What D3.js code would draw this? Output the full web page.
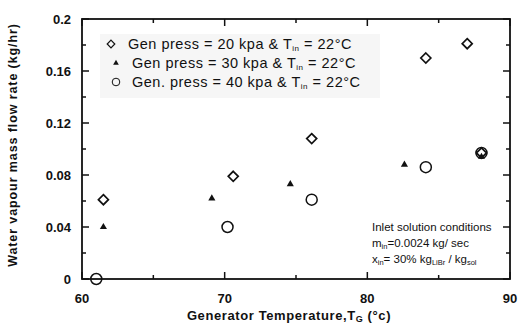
<!DOCTYPE html>
<html>
<head>
<meta charset="utf-8">
<script src="https://cdn.jsdelivr.net/npm/d3@7"></script>
<style>
  body { margin: 0; background: #fff; }
  svg text { font-family: "Liberation Sans", Arial, sans-serif; fill: #111; }
</style>
</head>
<body>
<div id="chart"></div>
<script>
// values
const temp20 = [61.5, 70.6, 76.1, 84.1, 87.0, 88.0];
const flow20 = [0.061, 0.079, 0.108, 0.170, 0.181, 0.097];
const temp30 = [61.5, 69.1, 74.6, 82.6, 88.0];
const flow30 = [0.040, 0.062, 0.073, 0.088, 0.094];
const temp40 = [61.0, 70.2, 76.1, 84.1, 88.0];
const flow40 = [0.000, 0.040, 0.061, 0.086, 0.097];

const xTicks = [60, 70, 80, 90];
const yTicks = [0, 0.04, 0.08, 0.12, 0.16, 0.2];
const yTickLabels = ["0", "0.04", "0.08", "0.12", "0.16", "0.2"];

const width = 518, height = 325;
const margin = { top: 19, right: 8, bottom: 46, left: 82 };

const svg = d3.select("#chart").append("svg")
  .attr("width", width)
  .attr("height", height);

const x = d3.scaleLinear().domain([60, 90]).range([margin.left, width - margin.right]);
const y = d3.scaleLinear().domain([0, 0.2]).range([height - margin.bottom, margin.top]);

// legend background (faint grey patch)
svg.append("rect")
  .attr("x", 100).attr("y", 34)
  .attr("width", 280).attr("height", 64)
  .attr("fill", "#f6f6f6");

// frame
svg.append("rect")
  .attr("x", x(60)).attr("y", y(0.2))
  .attr("width", x(90) - x(60)).attr("height", y(0) - y(0.2))
  .attr("fill", "none").attr("stroke", "#111").attr("stroke-width", 1.8);

// inward ticks on all four sides
const xMinor = d3.range(60, 90.1, 5);
const yMinor = d3.range(0, 0.2001, 0.02);
const tick = g => g.attr("stroke", "#111").attr("stroke-width", 1.5);

xMinor.forEach(v => {
  const len = v % 10 === 0 ? 7 : 4;
  svg.append("line").call(tick)
    .attr("x1", x(v)).attr("x2", x(v)).attr("y1", y(0)).attr("y2", y(0) - len);
  svg.append("line").call(tick)
    .attr("x1", x(v)).attr("x2", x(v)).attr("y1", y(0.2)).attr("y2", y(0.2) + len);
});
yMinor.forEach((v, i) => {
  const len = i % 2 === 0 ? 7 : 4;
  svg.append("line").call(tick)
    .attr("x1", x(60)).attr("x2", x(60) + len).attr("y1", y(v)).attr("y2", y(v));
  svg.append("line").call(tick)
    .attr("x1", x(90)).attr("x2", x(90) - len).attr("y1", y(v)).attr("y2", y(v));
});

// tick labels
svg.selectAll("text.xt").data(xTicks).enter().append("text")
  .attr("class", "xt")
  .attr("x", d => x(d)).attr("y", y(0) + 24)
  .attr("text-anchor", "middle")
  .attr("font-size", 13).attr("font-weight", "bold")
  .text(d => d);

svg.selectAll("text.yt").data(yTicks).enter().append("text")
  .attr("class", "yt")
  .attr("x", x(60) - 11).attr("y", d => y(d) + 4.5)
  .attr("text-anchor", "end")
  .attr("font-size", 13).attr("font-weight", "bold")
  .text((d, i) => yTickLabels[i]);

// axis titles
const xt = svg.append("text")
  .attr("x", 289).attr("y", 320)
  .attr("text-anchor", "middle")
  .attr("font-size", 13).attr("font-weight", "bold")
  .attr("letter-spacing", 0.6);
xt.append("tspan").text("Generator Temperature,T");
xt.append("tspan").attr("font-size", 9).attr("dy", 2).text("G");
xt.append("tspan").attr("dy", -2).text(" (°c)");

svg.append("text")
  .attr("transform", "translate(17,145) rotate(-90)")
  .attr("text-anchor", "middle")
  .attr("font-size", 12.5).attr("font-weight", "bold")
  .attr("letter-spacing", 0.9)
  .text("Water vapour mass flow rate (kg/hr)");

// markers
const diamondPath = r => "M0," + (-r) + "L" + r + ",0L0," + r + "L" + (-r) + ",0Z";
const triangle = d3.symbol().type(d3.symbolTriangle).size(22);

const pts20 = temp20.map((t, i) => ({ t, f: flow20[i] }));
const pts30 = temp30.map((t, i) => ({ t, f: flow30[i] }));
const pts40 = temp40.map((t, i) => ({ t, f: flow40[i] }));

svg.selectAll("circle.s40").data(pts40).enter().append("circle")
  .attr("class", "s40")
  .attr("cx", d => x(d.t)).attr("cy", d => y(d.f)).attr("r", 5.5)
  .attr("fill", "none").attr("stroke", "#111").attr("stroke-width", 1.5);

svg.selectAll("path.s20").data(pts20).enter().append("path")
  .attr("class", "s20")
  .attr("d", diamondPath(5))
  .attr("transform", d => "translate(" + x(d.t) + "," + y(d.f) + ")")
  .attr("fill", "none").attr("stroke", "#111").attr("stroke-width", 1.7);

svg.selectAll("path.s30").data(pts30).enter().append("path")
  .attr("class", "s30")
  .attr("d", triangle)
  .attr("transform", d => "translate(" + x(d.t) + "," + y(d.f) + ")")
  .attr("fill", "#111");

// legend
const legendRows = [
  { mark: "d", label: "Gen  press = 20 kpa & T", y: 44, mx: 111, tx: 128 },
  { mark: "t", label: "Gen  press = 30 kpa & T", y: 63, mx: 116, tx: 132 },
  { mark: "c", label: "Gen. press = 40 kpa & T", y: 82, mx: 116, tx: 132 }
];
legendRows.forEach(r => {
  if (r.mark === "d") {
    svg.append("path").attr("d", diamondPath(3.8))
      .attr("transform", "translate(" + r.mx + "," + r.y + ")")
      .attr("fill", "none").attr("stroke", "#111").attr("stroke-width", 1.2);
  } else if (r.mark === "t") {
    svg.append("path").attr("d", d3.symbol().type(d3.symbolTriangle).size(14))
      .attr("transform", "translate(" + r.mx + "," + r.y + ")")
      .attr("fill", "#111");
  } else {
    svg.append("circle").attr("cx", r.mx).attr("cy", r.y).attr("r", 3.8)
      .attr("fill", "none").attr("stroke", "#111").attr("stroke-width", 1);
  }
  const t = svg.append("text").attr("x", r.tx).attr("y", r.y + 5)
    .attr("font-size", 14.5).attr("letter-spacing", 0.5);
  t.append("tspan").text(r.label);
  t.append("tspan").attr("font-size", 8).attr("dy", 2).text("in");
  t.append("tspan").attr("dy", -2).text(" = 22°C");
});

// inlet conditions note
const note = svg.append("g").attr("font-size", 11.5);
note.append("text").attr("x", 372).attr("y", 231).text("Inlet solution conditions");
const n2 = note.append("text").attr("x", 372).attr("y", 247);
n2.append("tspan").text("m");
n2.append("tspan").attr("font-size", 7.5).attr("dy", 2).text("in");
n2.append("tspan").attr("dy", -2).text("=0.0024 kg/ sec");
const n3 = note.append("text").attr("x", 372).attr("y", 263);
n3.append("tspan").text("x");
n3.append("tspan").attr("font-size", 7.5).attr("dy", 2).text("in");
n3.append("tspan").attr("dy", -2).text("= 30% kg");
n3.append("tspan").attr("font-size", 7.5).attr("dy", 2).text("LiBr");
n3.append("tspan").attr("dy", -2).text(" / kg");
n3.append("tspan").attr("font-size", 7.5).attr("dy", 2).text("sol");
</script>
</body>
</html>
